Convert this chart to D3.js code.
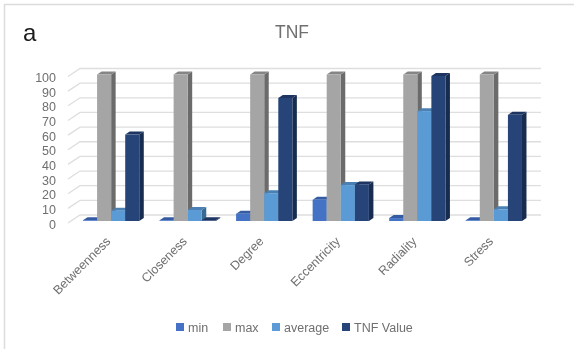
<!DOCTYPE html>
<html>
<head>
<meta charset="utf-8">
<script src="https://cdn.jsdelivr.net/npm/d3@7"></script>
<style>
    html, body { margin: 0; padding: 0; background: #fff; }
    text { font-family: "Liberation Sans", sans-serif; fill: #6f6f6f; }
    .axis path, .axis line { display: none; }
</style>
</head>
<body>
<script>
const categories = ["Betweenness", "Closeness", "Degree", "Eccentricity", "Radiality", "Stress"];
const seriesNames = ["min", "max", "average", "TNF Value"];
const minValues = [0.5, 0.5, 5, 14.5, 2, 0.5];
const maxValues = [100, 100, 100, 100, 100, 100];
const averageValues = [7, 7.5, 19, 24.5, 75, 8];
const tnfValues = [59, 0.5, 84, 25, 99, 72.5];
const yTicks = [0, 10, 20, 30, 40, 50, 60, 70, 80, 90, 100];

const allValues = [minValues, maxValues, averageValues, tnfValues];
const front = ["#4472c4", "#a5a5a5", "#5b9bd5", "#264478"];
const top3d = ["#355ca3", "#858585", "#4a80b3", "#1d3560"];
const side = ["#2b4a80", "#6b6b6b", "#376b93", "#182c50"];

const width = 574, height = 349;
const depthX = 4.5, depthY = -3;     // bar depth
const wallX = 12, wallY = -8;        // floor depth

const svg = d3.select("body").append("svg")
    .attr("width", width)
    .attr("height", height)
    .style("display", "block");

svg.append("defs").append("filter")
    .attr("id", "soft")
    .append("feGaussianBlur")
    .attr("stdDeviation", 0.35);

// picture frame, top and left only
svg.append("path")
    .attr("d", "M4.5," + height + "V4.5H" + width)
    .attr("fill", "none")
    .attr("stroke", "#dcdcdc")
    .attr("stroke-width", 1.5);

const x = d3.scaleBand()
    .domain(categories)
    .range([72, 533])
    .paddingInner(0.265)
    .paddingOuter(0.144);

const xInner = d3.scaleBand()
    .domain(seriesNames)
    .range([0, x.bandwidth()]);

const y = d3.scaleLinear()
    .domain([0, 100])
    .range([221, 74.5]);

// gridlines with their short diagonal on the left
const grid = svg.append("g").attr("class", "grid");
yTicks.forEach(function(t) {
    grid.append("path")
        .attr("d", d3.line()([
            [68, y(t) + 2],
            [68 + wallX, y(t) + 2 + wallY],
            [541, y(t) + 2 + wallY]
        ]))
        .attr("fill", "none")
        .attr("stroke", "#dedede")
        .attr("stroke-width", 1.3);
});

const groups = svg.selectAll(".group")
    .data(categories)
    .enter()
    .append("g")
    .attr("class", "group")
    .attr("transform", d => "translate(" + x(d) + ",0)");

groups.each(function(cat, c) {
    const g = d3.select(this);
    seriesNames.forEach(function(name, s) {
        const v = allValues[s][c];
        const x0 = xInner(name), x1 = x0 + xInner.bandwidth();
        const y0 = y(0), y1 = y(v);

        g.append("path")
            .attr("d", d3.line()([[x1, y1], [x1 + depthX, y1 + depthY], [x1 + depthX, y0 + depthY], [x1, y0]]))
            .attr("fill", side[s]);
        g.append("path")
            .attr("d", d3.line()([[x0, y1], [x0 + depthX, y1 + depthY], [x1 + depthX, y1 + depthY], [x1, y1]]))
            .attr("fill", top3d[s]);
        g.append("rect")
            .attr("x", x0)
            .attr("y", y1)
            .attr("width", xInner.bandwidth())
            .attr("height", y0 - y1)
            .attr("fill", front[s]);
    });
});

const labels = svg.append("g").attr("filter", "url(#soft)");

// y axis
const yAxis = d3.axisLeft(y).tickValues(yTicks).tickSize(0).tickPadding(0);
labels.append("g")
    .attr("class", "axis")
    .attr("transform", "translate(56,3)")
    .call(yAxis)
    .selectAll("text")
    .style("font-size", "12.5px");

// x axis, slanted labels
const xAxis = d3.axisBottom(x).tickSize(0).tickPadding(0);
labels.append("g")
    .attr("class", "axis")
    .attr("transform", "translate(-3,239)")
    .call(xAxis)
    .selectAll("text")
    .style("font-size", "12.5px")
    .style("text-anchor", "end")
    .attr("dy", "0.35em")
    .attr("y", 0)
    .attr("transform", "rotate(-45)");

labels.append("text")
    .attr("x", 292)
    .attr("y", 38)
    .attr("text-anchor", "middle")
    .style("font-size", "17.5px")
    .text("TNF");

labels.append("text")
    .attr("x", 23)
    .attr("y", 40.5)
    .style("font-size", "24px")
    .style("fill", "#1a1a1a")
    .text("a");

// legend
const legendX = d3.scaleOrdinal()
    .domain(seriesNames)
    .range([176, 223, 272, 342]);

const legend = labels.selectAll(".legend")
    .data(seriesNames)
    .enter()
    .append("g")
    .attr("class", "legend")
    .attr("transform", d => "translate(" + legendX(d) + ",323)");

legend.append("rect")
    .attr("y", 0)
    .attr("width", 8)
    .attr("height", 8)
    .attr("fill", (d, i) => front[i]);

legend.append("text")
    .attr("x", 12)
    .attr("y", 8.5)
    .style("font-size", "12.5px")
    .text(d => d);
</script>
</body>
</html>
